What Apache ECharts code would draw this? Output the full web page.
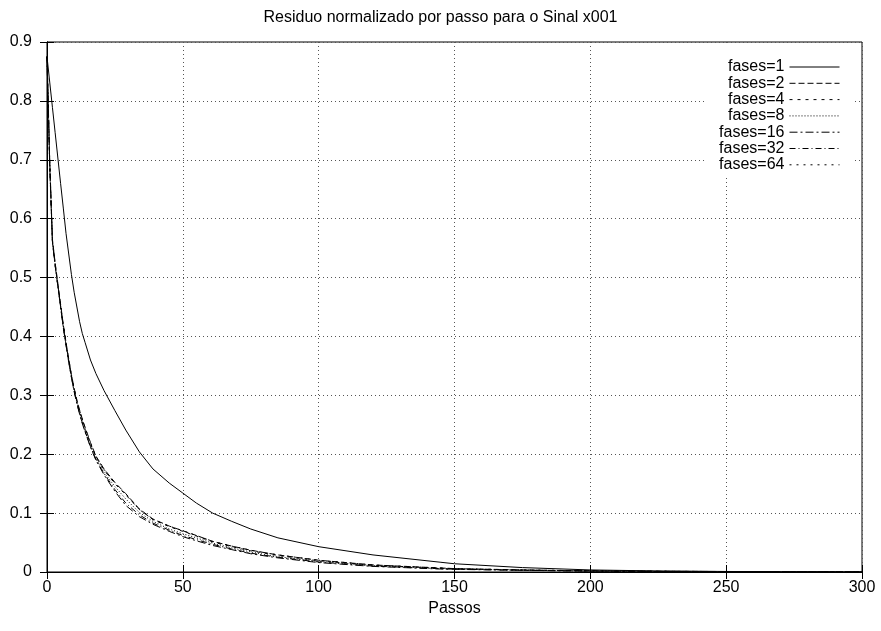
<!DOCTYPE html>
<html>
<head>
<meta charset="utf-8">
<script src="https://cdn.jsdelivr.net/npm/echarts@6/dist/echarts.min.js"></script>
<style>
html, body { margin: 0; padding: 0; background: #fff; }
#chart { width: 881px; height: 631px; }
</style>
</head>
<body>
<div id="chart"></div>
<script>
// passos (eixo x) onde os residuos foram lidos
var steps = [0,1,2,3,4,5,6,7,8,9,10,11,12,13,14,16,18,21,25,29,34,39,45,50,55,61,68,75,85,100,120,145,150,175,200,225,250,275,300];

var fases1 = [.875,.832,.789,.746,.703,.660,.618,.575,.540,.505,.475,.450,.425,.405,.390,
	.360,.337,.308,.274,.241,.204,.175,.151,.134,.117,.100,.086,.073,.058,.043,.029,.0165,.014,.0075,.0035,.0018,.0009,.0004,.0002];
var fases2 = [.875,.700,.565,.525,.490,.455,.420,.390,.362,.335,.312,.292,.275,.260,.246,
	.220,.197,.175,.152,.133,.107,.090,.078,.070,.062,.052,.044,.037,.029,.020,.012,.0068,.0058,.0035,.0020,.0012,.0008,.0005,.0003];
var fases4 = [.875,.695,.562,.522,.487,.452,.418,.388,.360,.333,.310,.290,.273,.258,.244,
	.218,.195,.173,.150,.131,.106,.089,.077,.069,.061,.051,.043,.036,.028,.019,.0115,.0065,.0056,.0034,.0019,.0011,.0007,.0004,.0003];
var fases8 = [.875,.692,.561,.521,.486,.451,.416,.386,.358,.331,.308,.288,.270,.255,.241,
	.215,.192,.169,.145,.124,.101,.086,.073,.065,.058,.049,.041,.034,.026,.018,.011,.006,.0052,.0031,.0017,.0010,.0006,.0004,.0002];
var fases16 = [.875,.690,.560,.520,.485,.450,.415,.385,.356,.330,.306,.286,.268,.252,.238,
	.212,.190,.165,.137,.113,.094,.081,.069,.060,.053,.045,.038,.031,.024,.016,.0095,.005,.0045,.0028,.0015,.0009,.0005,.0003,.0002];
var fases32 = [.875,.691,.561,.521,.486,.451,.416,.386,.357,.331,.307,.287,.269,.253,.239,
	.213,.191,.167,.140,.117,.097,.083,.071,.062,.055,.047,.039,.032,.025,.017,.010,.0055,.0048,.0030,.0016,.0009,.0006,.0003,.0002];
var fases64 = [.875,.698,.563,.523,.488,.453,.419,.389,.361,.334,.311,.291,.274,.259,.245,
	.219,.196,.174,.151,.132,.106,.089,.078,.070,.062,.052,.044,.037,.029,.020,.012,.0067,.0057,.0035,.0020,.0012,.0008,.0005,.0003];

var seriesNames = ['fases=1','fases=2','fases=4','fases=8','fases=16','fases=32','fases=64'];
var seriesValues = [fases1, fases2, fases4, fases8, fases16, fases32, fases64];
var dashTypes = ['solid', [6,3], [3,5], [1,2], [8,3,2,3], [6,3,1,3], [2,5]];

function seriesAssemble() {
	var arr = [];
	for (var i = 0; i < seriesNames.length; i++) {
		var pts = [];
		for (var j = 0; j < steps.length; j++) {
			pts.push([steps[j], seriesValues[i][j]]);
		}
		arr.push({
			name: seriesNames[i],
			type: 'line',
			data: pts,
			showSymbol: false,
			symbol: 'none',
			smooth: false,
			animation: false,
			lineStyle: { color: '#000', width: 1, type: dashTypes[i] },
			itemStyle: { color: '#000' }
		});
	}
	return arr;
}

var font = 'Liberation Sans, Arial, Helvetica, sans-serif';
var gridLine = { show: true, lineStyle: { color: '#555', width: 1, type: [1, 3] } };

var chart = echarts.init(document.getElementById('chart'), null, { renderer: 'canvas' });
var option = {
	backgroundColor: '#fff',
	animation: false,
	title: {
		text: 'Residuo normalizado por passo para o Sinal x001',
		left: 'center',
		top: 5,
		textStyle: { fontFamily: font, fontSize: 16, fontWeight: 'normal', color: '#000' }
	},
	legend: {
		orient: 'vertical',
		align: 'right',
		right: 26,
		top: 45,
		padding: [14, 15, 4, 15],
		backgroundColor: '#fff',
		itemWidth: 50,
		itemHeight: 14,
		itemGap: 0.3,
		itemStyle: { opacity: 0 },
		lineStyle: { width: 1 },
		textStyle: { fontFamily: font, fontSize: 16, color: '#000', lineHeight: 16 },
		data: seriesNames
	},
	grid: {
		left: 47, right: 19, top: 42, bottom: 59,
		show: true, borderColor: '#000', borderWidth: 1,
		outerBoundsMode: 'none'
	},
	xAxis: [{
		type: 'value', min: 0, max: 300, interval: 50,
		name: 'Passos', nameLocation: 'middle', nameGap: 25,
		nameTextStyle: { fontFamily: font, fontSize: 16, color: '#000' },
		axisLine: { show: true, lineStyle: { color: '#000' } },
		axisTick: { show: true, inside: true, length: 7, lineStyle: { color: '#000' } },
		axisLabel: { fontFamily: font, fontSize: 16, color: '#000', margin: 8 },
		splitLine: gridLine
	}, {
		type: 'value', min: 0, max: 300, interval: 50, position: 'top',
		axisLine: { show: true, lineStyle: { color: '#000' } },
		axisTick: { show: true, inside: true, length: 7, lineStyle: { color: '#000' } },
		axisLabel: { show: false },
		splitLine: { show: false }
	}],
	yAxis: [{
		type: 'value', min: 0, max: 0.9, interval: 0.1,
		axisLine: { show: true, lineStyle: { color: '#000' } },
		axisTick: { show: true, inside: true, length: 7, lineStyle: { color: '#000' } },
		axisLabel: { fontFamily: font, fontSize: 16, color: '#000', margin: 15 },
		splitLine: gridLine
	}, {
		type: 'value', min: 0, max: 0.9, interval: 0.1, position: 'right',
		axisLine: { show: true, lineStyle: { color: '#000' } },
		axisTick: { show: true, inside: true, length: 7, lineStyle: { color: '#000' } },
		axisLabel: { show: false },
		splitLine: { show: false }
	}],
	series: seriesAssemble()
};
chart.setOption(option);
</script>
</body>
</html>
